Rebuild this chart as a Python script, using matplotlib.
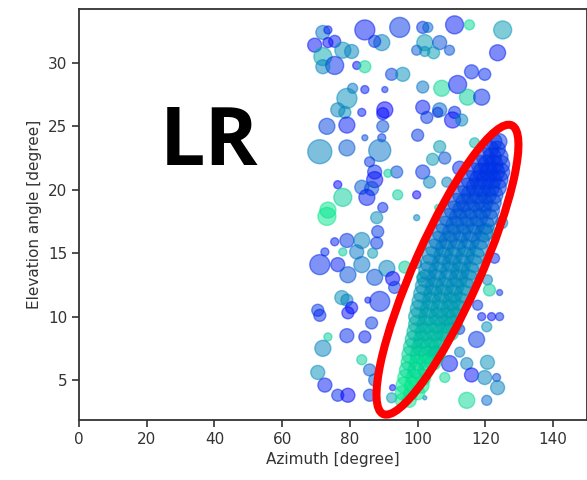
import matplotlib
matplotlib.use("Agg")
import matplotlib.pyplot as plt
from matplotlib.patches import Ellipse
from matplotlib.transforms import IdentityTransform

# ---- scattered bubbles: azimuth, elevation, radius(px), colour value (winter cmap)
sc_x = [72.0, 73.5, 69.6, 73.5, 75.5, 77.9, 80.5, 72.0, 75.5, 72.0, 82.0, 84.4, 84.4, 89.4, 87.3,
        94.7, 92.3, 95.6, 84.4, 90.3, 80.8, 79.1, 90.3, 76.4, 83.5,
        101.5, 103.0, 110.9, 115.3, 125.1, 102.1, 106.5, 99.7, 102.1, 104.7, 109.4, 123.6, 115.9,
        119.8, 101.5, 107.1, 111.8, 114.7, 118.9, 101.5, 106.5, 110.9,
        78.5, 89.7, 73.2, 79.1, 89.7, 84.4, 89.4, 71.1, 79.1, 88.8, 85.8, 93.8, 87.3, 87.3, 91.2,
        76.4, 83.5, 86.4, 77.9, 85.0, 94.1, 73.5, 89.7,
        102.7, 105.9, 110.3, 113.0, 100.0, 106.5, 104.4, 108.0, 101.5, 103.5, 108.6, 99.7, 112.4,
        116.8, 105.9,
        73.2, 87.9, 75.5, 79.1, 83.5, 88.2, 87.9, 72.6, 77.9, 82.0, 86.7, 71.1, 76.4, 83.5, 79.4,
        87.3, 90.9, 92.6, 96.2, 93.2, 77.6, 79.1, 88.8, 70.5, 80.5, 85.3,
        99.7, 124.8, 120.4, 122.7, 120.6, 121.2, 124.2, 117.7, 99.7, 101.2,
        71.1, 79.4, 86.4, 73.5, 79.1, 84.4, 72.0, 83.5, 70.5, 85.8, 72.6, 76.4, 79.4, 85.8, 87.3,
        92.6, 92.3,
        118.9, 121.8, 124.2, 112.4, 120.4, 117.4, 105.0, 112.4, 109.4, 114.5, 120.6, 115.9, 119.8,
        123.3, 108.0, 123.6, 114.5, 120.4, 102.1]
sc_y = [32.4, 32.6, 31.4, 31.6, 31.7, 31.0, 30.9, 30.5, 29.8, 29.7, 29.8, 29.7, 32.6, 31.6, 31.7,
        32.8, 29.1, 29.1, 27.9, 27.9, 28.0, 27.2, 26.3, 26.3, 26.1,
        32.8, 32.8, 33.0, 33.0, 32.6, 31.6, 31.6, 31.0, 30.9, 30.8, 31.0, 30.8, 29.3,
        29.1, 28.1, 28.0, 28.3, 27.3, 27.3, 26.5, 26.3, 26.1,
        26.1, 26.0, 25.0, 25.1, 25.0, 24.1, 24.1, 23.0, 23.3, 23.1, 22.2, 21.4, 21.4, 20.8, 21.3,
        20.4, 20.2, 20.1, 19.4, 19.4, 19.6, 18.4, 18.6,
        25.7, 26.1, 25.5, 25.5, 24.3, 23.4, 22.4, 22.5, 21.4, 20.6, 20.6, 19.6, 21.7,
        23.7, 18.6,
        17.9, 17.8, 15.9, 16.0, 16.0, 16.7, 15.8, 15.1, 15.1, 15.1, 15.0, 14.1, 14.1, 14.1, 13.3,
        13.1, 13.8, 13.0, 13.9, 12.3, 11.5, 11.3, 11.2, 10.5, 10.7, 11.3,
        17.8, 17.4, 16.7, 14.6, 12.9, 12.1, 11.9, 10.9, 14.2, 13.1,
        10.1, 10.3, 9.5, 8.4, 8.5, 8.4, 7.5, 6.6, 5.6, 5.8, 4.6, 3.8, 3.8, 3.8, 5.0,
        4.4, 3.6,
        10.0, 10.0, 10.0, 9.0, 9.2, 8.2, 7.2, 7.2, 6.3, 6.3, 6.4, 5.4, 5.2,
        5.2, 5.2, 4.4, 3.4, 3.4, 3.6]
sc_r = [7, 4, 7, 5, 6, 8, 7, 9, 9, 7, 4, 6, 10, 8, 6,
        10, 6, 7, 4, 3, 5, 10, 8, 7, 4,
        6, 5, 9, 5, 9, 8, 7, 5, 5, 6, 5, 8, 7,
        6, 6, 8, 9, 8, 8, 7, 7, 6,
        6, 6, 8, 8, 6, 3, 4, 12, 8, 11, 5, 6, 7, 8, 4,
        4, 7, 7, 9, 8, 5, 8, 5,
        6, 5, 8, 6, 6, 6, 6, 6, 7, 6, 5, 4, 7,
        5, 3,
        9, 6, 4, 7, 8, 6, 6, 4, 4, 7, 5, 10, 7, 8, 8,
        8, 8, 7, 6, 6, 7, 6, 10, 6, 6, 3,
        3, 6, 8, 5, 5, 6, 3, 5, 5, 5,
        6, 6, 6, 4, 7, 6, 8, 5, 7, 6, 7, 6, 7, 6, 6,
        3, 5,
        4, 4, 4, 5, 5, 8, 6, 5, 8, 6, 7, 7, 7,
        4, 5, 7, 8, 5, 2]
sc_c = [0.45, 0.1, 0.05, 0.0, 0.1, 0.55, 0.5, 0.65, 0.15, 0.5, 0.05, 0.85, 0.1, 0.5, 0.2,
        0.2, 0.25, 0.55, 0.1, 0.15, 0.45, 0.55, 0.0, 0.5, 0.1,
        0.2, 0.4, 0.1, 0.85, 0.6, 0.6, 0.3, 0.35, 0.55, 0.6, 0.3, 0.1, 0.15,
        0.15, 0.45, 0.85, 0.1, 0.8, 0.15, 0.1, 0.4, 0.15,
        0.55, 0.05, 0.25, 0.1, 0.3, 0.3, 0.2, 0.5, 0.35, 0.45, 0.2, 0.3, 0.15, 0.05, 0.8,
        0.0, 0.35, 0.3, 0.8, 0.1, 0.8, 0.9, 0.15,
        0.2, 0.2, 0.05, 0.5, 0.2, 0.6, 0.6, 0.3, 0.2, 0.5, 0.5, 0.0, 0.15,
        0.7, 0.85,
        0.9, 0.55, 0.1, 0.2, 0.5, 0.2, 0.2, 0.15, 0.8, 0.45, 0.6, 0.15, 0.1, 0.45, 0.3,
        0.3, 0.5, 0.0, 0.8, 0.2, 0.55, 0.5, 0.15, 0.2, 0.05, 0.1,
        0.5, 0.5, 0.75, 0.15, 0.5, 0.8, 0.2, 0.2, 0.5, 0.8,
        0.15, 0.05, 0.2, 0.8, 0.15, 0.1, 0.5, 0.8, 0.55, 0.35, 0.1, 0.15, 0.0, 0.2, 0.35,
        0.05, 0.6,
        0.1, 0.05, 0.15, 0.2, 0.55, 0.2, 0.05, 0.5, 0.1, 0.5, 0.55, 0.05, 0.5,
        0.3, 0.85, 0.5, 0.85, 0.4, 0.5]

# ---- dense diagonal band of bubbles, read row by row (elevation, azimuths, colour)
band_row_y = [3.4, 4.0, 4.6, 5.2, 5.8, 6.4, 7.0, 7.6, 8.2, 8.8, 9.4, 10.0, 10.6, 11.2, 11.8,
              12.4, 13.0, 13.6, 14.2, 14.8, 15.4, 16.0, 16.6, 17.2, 17.8, 18.4, 19.0, 19.6,
              20.2, 20.8, 21.4, 22.0, 22.6, 23.2, 23.8]
band_row_x = [
    [95.5, 97.5],
    [95.5, 98.0, 100.0],
    [96.0, 98.5, 101.0],
    [96.5, 99.0, 101.5],
    [97.0, 99.5, 102.5],
    [97.5, 100.0, 102.5, 104.5],
    [98.0, 100.5, 103.0, 105.5],
    [98.5, 101.0, 103.5, 106.0],
    [99.0, 101.5, 104.5, 107.0],
    [99.5, 102.0, 105.0, 107.5, 109.5],
    [100.0, 102.5, 105.5, 108.0, 110.5],
    [100.0, 103.0, 106.0, 108.5, 111.0],
    [100.5, 103.5, 106.5, 109.5, 112.0],
    [101.0, 104.0, 107.0, 110.0, 112.5],
    [101.5, 104.5, 107.5, 110.5, 113.5],
    [102.0, 105.0, 108.0, 111.0, 114.0],
    [102.5, 105.5, 109.0, 112.0, 115.0],
    [103.0, 106.0, 109.5, 112.5, 115.5],
    [103.5, 107.0, 110.0, 113.0, 116.5],
    [104.0, 107.5, 110.5, 114.0, 117.0],
    [105.0, 108.0, 111.5, 114.5, 118.0],
    [106.0, 109.0, 112.0, 115.5, 118.5],
    [107.0, 110.0, 113.0, 116.0, 119.5],
    [108.0, 111.0, 114.0, 117.0, 120.0],
    [109.0, 112.0, 115.0, 118.0, 121.0],
    [110.5, 113.0, 116.0, 119.0, 121.5],
    [111.5, 114.0, 117.0, 119.5, 122.0],
    [113.0, 115.5, 118.0, 120.5, 122.5],
    [114.5, 117.0, 119.0, 121.5, 123.5],
    [115.5, 118.0, 120.0, 122.0, 124.0],
    [117.0, 119.0, 121.0, 123.0, 124.5],
    [118.5, 120.5, 122.5, 124.5],
    [120.0, 122.0, 124.0],
    [121.5, 123.5],
    [122.5, 124.0],
]
band_row_c = [0.9, 0.9, 0.9, 0.9, 0.85, 0.85, 0.85, 0.8, 0.75, 0.72, 0.7, 0.65, 0.62, 0.6,
              0.58, 0.56, 0.54, 0.52, 0.52, 0.5, 0.5, 0.45, 0.42, 0.4, 0.36, 0.33, 0.3,
              0.27, 0.24, 0.22, 0.2, 0.2, 0.2, 0.2, 0.2]
band_row_r = [7, 7, 8, 8, 8, 8, 9, 9, 9, 9, 9, 9, 9, 9, 9, 9, 9, 9, 9, 9, 9, 9, 9, 9, 9, 9, 9,
              9, 9, 9, 9, 9, 9, 8, 8]

x_ticks = [0, 20, 40, 60, 80, 100, 120, 140]
y_ticks = [5, 10, 15, 20, 25, 30]

fig = plt.figure(figsize=(5.87, 4.8), dpi=100)
ax = fig.add_axes([79 / 587, 60 / 480, 1 - 79 / 587, 411 / 480])

def s_from_r(rs):
    return [(1.44 * r) ** 2 for r in rs]

bx, by, bc, br = [], [], [], []
for yv, xs, cv, rv in zip(band_row_y, band_row_x, band_row_c, band_row_r):
    for xv in xs:
        bx.append(xv)
        by.append(yv)
        bc.append(cv)
        br.append(rv)

ax.scatter(sc_x, sc_y, s=s_from_r(sc_r), c=sc_c, cmap="winter", vmin=0, vmax=1, alpha=0.5)
ax.scatter(bx, by, s=s_from_r(br), c=bc, cmap="winter", vmin=0, vmax=1, alpha=0.5)

ax.set_xlim(0, 150)
ax.set_ylim(1.85, 34.25)
ax.set_xticks(x_ticks)
ax.set_yticks(y_ticks)
ax.tick_params(labelsize=11, length=5, width=1.2, colors="#333333")
for sp in ax.spines.values():
    sp.set_color("#333333")
    sp.set_linewidth(1.3)
ax.set_xlabel("Azimuth [degree]", fontsize=11, color="#333333")
ax.set_ylabel("Elevation angle [degree]", fontsize=11, color="#333333")

fig.text(160 / 587, (480 - 165) / 480, "LR", fontsize=58, fontweight="bold",
         family=["Open Sans", "DejaVu Sans"], color="black", va="baseline", ha="left")

cx, cy = ax.transData.transform((108.8, 13.7))
ell = Ellipse((cx, cy), width=316, height=66, angle=66, transform=IdentityTransform(),
              fill=False, edgecolor="red", linewidth=5.8, zorder=10)
fig.add_artist(ell)

fig.savefig("out.png", dpi=100)
